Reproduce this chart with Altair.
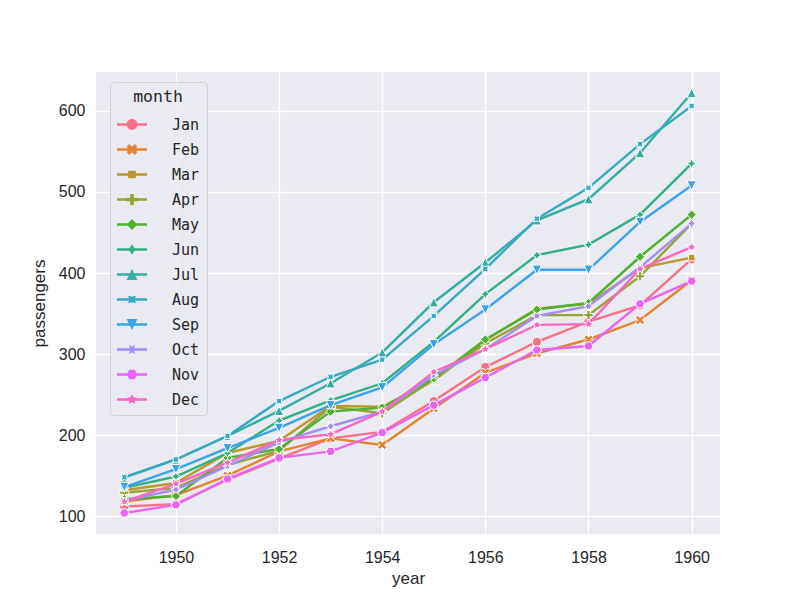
import math
import altair as alt
import pandas as pd

# ---------------- data ----------------
years = list(range(1949, 1961))
months = ["Jan", "Feb", "Mar", "Apr", "May", "Jun",
          "Jul", "Aug", "Sep", "Oct", "Nov", "Dec"]
jan = [112, 115, 145, 171, 196, 204, 242, 284, 315, 340, 360, 417]
feb = [118, 126, 150, 180, 196, 188, 233, 277, 301, 318, 342, 391]
mar = [132, 141, 178, 193, 236, 235, 267, 317, 356, 362, 406, 419]
apr = [129, 135, 163, 181, 235, 227, 269, 313, 348, 348, 396, 461]
may = [121, 125, 172, 183, 229, 234, 270, 318, 355, 363, 420, 472]
jun = [135, 149, 178, 218, 243, 264, 315, 374, 422, 435, 472, 535]
jul = [148, 170, 199, 230, 264, 302, 364, 413, 465, 491, 548, 622]
aug = [148, 170, 199, 242, 272, 293, 347, 405, 467, 505, 559, 606]
sep = [136, 158, 184, 209, 237, 259, 312, 355, 404, 404, 463, 508]
oct_ = [119, 133, 162, 191, 211, 229, 274, 306, 347, 359, 407, 461]
nov = [104, 114, 146, 172, 180, 203, 237, 271, 305, 310, 362, 390]
dec = [118, 140, 166, 194, 201, 229, 278, 306, 336, 337, 405, 432]
series = [jan, feb, mar, apr, may, jun, jul, aug, sep, oct_, nov, dec]
x_ticks = [1950, 1952, 1954, 1956, 1958, 1960]
y_ticks = [100, 200, 300, 400, 500, 600]

rows = []
for m, vals in zip(months, series):
    for yr, v in zip(years, vals):
        rows.append({"year": yr, "month": m, "passengers": v})
df = pd.DataFrame(rows)

# ---------------- husl palette (seaborn) ----------------
M = [[3.2406, -1.5372, -0.4986], [-0.9689, 1.8758, 0.0415], [0.0557, -0.2040, 1.0570]]
REF_U, REF_V = 0.19784, 0.46834
LAB_E, LAB_K = 0.008856, 903.3


def max_chroma(L, H):
    hrad = math.radians(H)
    sinH, cosH = math.sin(hrad), math.cos(hrad)
    sub1 = (L + 16) ** 3 / 1560896.0
    sub2 = sub1 if sub1 > 0.008856 else L / 903.3
    result = float("inf")
    for m1, m2, m3 in M:
        top = (0.99915 * m1 + 1.05122 * m2 + 1.14460 * m3) * sub2
        rbottom = 0.86330 * m3 - 0.17266 * m2
        lbottom = 0.12949 * m3 - 0.38848 * m1
        bottom = (rbottom * sinH + lbottom * cosH) * sub2
        for t in (0.0, 1.0):
            C = L * (top - 1.05122 * t) / (bottom + 0.17266 * sinH * t)
            if 0 < C < result:
                result = C
    return result


def husl_hex(h, s, l):
    C = max_chroma(l, h) / 100 * s
    hr = math.radians(h)
    U, V = math.cos(hr) * C, math.sin(hr) * C
    t = (l + 16) / 116
    Y = t ** 3 if t ** 3 > LAB_E else (116 * t - 16) / LAB_K
    vu = U / (13 * l) + REF_U
    vv = V / (13 * l) + REF_V
    X = -(9 * Y * vu) / ((vu - 4) * vv - vu * vv)
    Z = (9 * Y - 15 * vv * Y - vv * X) / (3 * vv)
    out = []
    for row in M:
        c = row[0] * X + row[1] * Y + row[2] * Z
        c = 12.92 * c if c <= 0.0031308 else 1.055 * c ** (1 / 2.4) - 0.055
        out.append(min(max(c, 0.0), 1.0))
    return "#" + "".join(f"{round(v * 255):02x}" for v in out)


palette = [husl_hex(((i / 12) + 0.01) % 1 * 359, 0.9 * 99, 0.65 * 99) for i in range(12)]

# ---------------- marker shapes (matplotlib/seaborn style) ----------------
# all outlines are drawn counter-clockwise on screen so that overlapping
# sub-paths add up (nonzero fill rule)
def poly_pts(n, rot, star=False, inner=0.5):
    k = 2 * n if star else n
    pts = []
    for i in range(k):
        th = 2 * math.pi * i / k + math.pi / 2 + math.radians(rot)
        r = (1.0 if i % 2 == 0 else inner) if star else 1.0
        pts.append((r * math.cos(th), -r * math.sin(th)))
    return pts


def flip(pts):
    return [(x, -y) for x, y in pts]


x_filled = flip([(v[0] / 2, v[1] / 2) for v in
                 [(-1, -2), (0, -1), (1, -2), (2, -1), (1, 0), (2, 1),
                  (1, 2), (0, 1), (-1, 2), (-2, 1), (-1, 0), (-2, -1)]])
plus_filled = flip([(v[0] / 3, v[1] / 3) for v in
                    [(-1, -3), (1, -3), (1, -1), (3, -1), (3, 1), (1, 1),
                     (1, 3), (-1, 3), (-1, 1), (-3, 1), (-3, -1), (-1, -1)]])
tri_up = flip([(0, 1), (-1, -1), (1, -1)])
tri_down = flip([(0, -1), (1, 1), (-1, 1)])

marker_defs = [
    "circle",
    x_filled,
    poly_pts(4, 45),
    plus_filled,
    poly_pts(4, 0),
    poly_pts(4, 0, star=True),
    tri_up,
    poly_pts(4, 45, star=True),
    tri_down,
    poly_pts(6, 30, star=True),
    poly_pts(6, 30),
    poly_pts(5, 0, star=True),
]


def marker_path(defn, s, dx=0.0):
    if defn == "circle":
        return (f"M{dx + s:.3f},0A{s:.3f},{s:.3f} 0 1,0 {dx - s:.3f},0"
                f"A{s:.3f},{s:.3f} 0 1,0 {dx + s:.3f},0Z")
    return "M" + "L".join(f"{dx + x * s:.3f},{y * s:.3f}" for x, y in defn) + "Z"


chart_shapes = [marker_path(d, 1.0) for d in marker_defs]
# legend glyph: a short line segment with the marker in its middle
bar = "M-1,-0.125L-1,0.125L2,0.125L2,-0.125Z"
legend_shapes = [bar + marker_path(d, 0.54, dx=0.5) for d in marker_defs]

# ---------------- chart ----------------
TEXT = "#262626"
x_enc = alt.X("year:Q",
              scale=alt.Scale(domain=[1948.45, 1960.55], nice=False, zero=False),
              axis=alt.Axis(values=x_ticks, format="d", title="year"))
y_enc = alt.Y("passengers:Q",
              scale=alt.Scale(domain=[78.1, 647.9], nice=False, zero=False),
              axis=alt.Axis(values=y_ticks, format="d", title="passengers"))

layers = []
for i, m in enumerate(months):
    base = alt.Chart().transform_filter(alt.datum.month == m)
    layers.append(base.mark_line(strokeWidth=2.4, color=palette[i]).encode(x=x_enc, y=y_enc))
    layers.append(base.mark_point(shape=chart_shapes[i], filled=True, size=88, opacity=1,
                                  fill=palette[i], stroke="white", strokeWidth=1)
                  .encode(x=x_enc, y=y_enc))

legend_layer = alt.Chart().mark_point(filled=True, opacity=0).encode(
    x=x_enc, y=y_enc,
    color=alt.Color("month:N", scale=alt.Scale(domain=months, range=palette),
                    legend=alt.Legend(title="month")),
    shape=alt.Shape("month:N", scale=alt.Scale(domain=months, range=legend_shapes),
                    legend=alt.Legend(title="month")),
)
layers.append(legend_layer)

chart = alt.layer(*layers, data=df).properties(
    width=624, height=462,
    autosize=alt.AutoSizeParams(type="none"),
    padding={"left": 88, "top": 64, "right": 60, "bottom": 60},
    background="white",
).configure_view(
    fill="#eaeaf2", stroke=None
).configure_axis(
    domain=False, ticks=False, grid=True, gridColor="white", gridWidth=1.4,
    labelFont="Liberation Sans", labelFontSize=16, labelColor=TEXT,
    titleFont="Liberation Sans", titleFontSize=17, titleFontWeight="normal", titleColor=TEXT,
).configure_axisX(
    labelPadding=15, titlePadding=5,
).configure_axisY(
    labelPadding=11, titlePadding=10,
).configure_legend(
    orient="none", legendX=14, legendY=10,
    fillColor="rgba(234,234,242,0.8)", strokeColor="#cfcfd6", cornerRadius=4,
    padding=7,
    symbolSize=400, symbolStrokeWidth=0, symbolOpacity=1,
    labelFont="DejaVu Sans Mono", labelFontSize=15, labelColor=TEXT, labelOffset=35,
    titleFont="DejaVu Sans Mono", titleFontSize=16.5, titleFontWeight="normal", titleColor=TEXT,
    titleAnchor="middle", titlePadding=9, rowPadding=7,
)

chart.save("out.html", embed_options={"renderer": "svg", "actions": False})
